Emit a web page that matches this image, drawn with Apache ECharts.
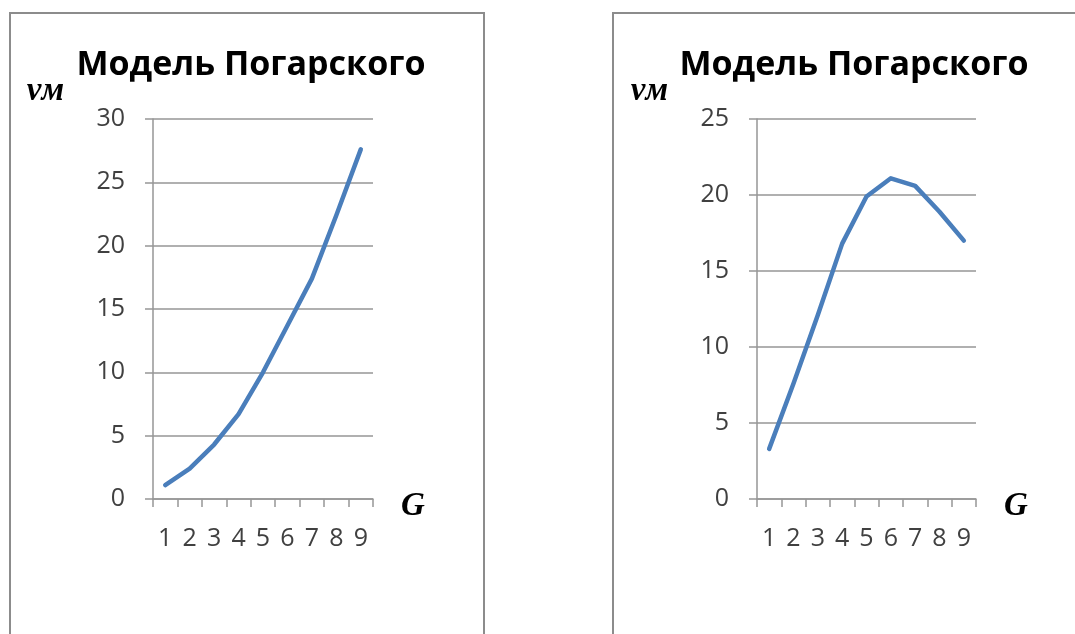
<!DOCTYPE html>
<html>
<head>
<meta charset="utf-8">
<script src="https://cdn.jsdelivr.net/npm/echarts@6/dist/echarts.min.js"></script>
<style>
  html, body { margin: 0; padding: 0; background: #ffffff; }
  #chart { width: 1075px; height: 634px; }
</style>
</head>
<body>
<div id="chart"></div>
<script>
// Categories along G and the two computed speed curves
const categories = ['1', '2', '3', '4', '5', '6', '7', '8', '9'];
const speedLeft = [1.1, 2.4, 4.3, 6.7, 10.0, 13.7, 17.4, 22.4, 27.6];
const speedRight = [3.3, 7.6, 12.1, 16.8, 19.9, 21.1, 20.6, 18.9, 17.0];
const chartTitle = 'Модель Погарского';
const yName = 'vм';
const xName = 'G';

const gridColor = '#969696';
const labelColor = '#404040';
const lineColor = '#4a7ebb';
const tickFont = 'Open Sans';
const nameFont = 'italic bold 33px "Liberation Serif"';

function xAxisCfg(gridIndex) {
  return {
    type: 'category',
    gridIndex: gridIndex,
    data: categories,
    boundaryGap: true,
    axisLine: { show: true, lineStyle: { color: gridColor, width: 1.5 } },
    axisTick: { show: true, length: 8, alignWithLabel: false, lineStyle: { color: gridColor, width: 1.5 } },
    axisLabel: { margin: 27, fontFamily: tickFont, fontSize: 25, color: labelColor },
    splitLine: { show: false }
  };
}

function yAxisCfg(gridIndex, max, interval) {
  return {
    type: 'value',
    gridIndex: gridIndex,
    min: 0,
    max: max,
    interval: interval,
    name: yName,
    nameLocation: 'end',
    nameGap: 11,
    nameTextStyle: {
      fontFamily: 'Liberation Serif', fontStyle: 'italic', fontWeight: 'bold',
      fontSize: 33, color: '#000000', align: 'right', padding: [0, 89, 0, 0]
    },
    axisLine: { show: true, lineStyle: { color: gridColor, width: 1.5 } },
    axisTick: { show: true, length: 8, lineStyle: { color: gridColor, width: 1.5 } },
    axisLabel: { margin: 28, fontFamily: tickFont, fontSize: 25, color: labelColor },
    splitLine: { show: true, lineStyle: { color: gridColor, width: 1.5 } }
  };
}

const chart = echarts.init(document.getElementById('chart'), null, { renderer: 'canvas' });

chart.setOption({
  backgroundColor: '#ffffff',
  animation: false,
  title: [
    {
      text: chartTitle, left: 246, top: 43, textAlign: 'center',
      textStyle: { fontFamily: 'Open Sans', fontWeight: 'bold', fontSize: 34, color: '#000000' }
    },
    {
      text: chartTitle, left: 849, top: 43, textAlign: 'center',
      textStyle: { fontFamily: 'Open Sans', fontWeight: 'bold', fontSize: 34, color: '#000000' }
    }
  ],
  graphic: [
    {
      type: 'rect', left: 9, top: 12, z: -1,
      shape: { width: 474, height: 640 },
      style: { fill: '#ffffff', stroke: '#8c8c8c', lineWidth: 2 }
    },
    {
      type: 'rect', left: 612, top: 12, z: -1,
      shape: { width: 474, height: 640 },
      style: { fill: '#ffffff', stroke: '#8c8c8c', lineWidth: 2 }
    },
    // x-axis name, placed to the right of each category axis
    {
      type: 'text', z: 10,
      style: { text: xName, x: 401, y: 506, font: nameFont, fill: '#000000', align: 'left', verticalAlign: 'middle' }
    },
    {
      type: 'text', z: 10,
      style: { text: xName, x: 1004, y: 506, font: nameFont, fill: '#000000', align: 'left', verticalAlign: 'middle' }
    }
  ],
  grid: [
    { left: 153, top: 119, width: 220, height: 380 },
    { left: 757, top: 119, width: 219, height: 380 }
  ],
  xAxis: [xAxisCfg(0), xAxisCfg(1)],
  yAxis: [yAxisCfg(0, 30, 5), yAxisCfg(1, 25, 5)],
  series: [
    {
      type: 'line', xAxisIndex: 0, yAxisIndex: 0, data: speedLeft,
      showSymbol: false, symbol: 'none',
      lineStyle: { color: lineColor, width: 4.5, cap: 'round', join: 'round' }
    },
    {
      type: 'line', xAxisIndex: 1, yAxisIndex: 1, data: speedRight,
      showSymbol: false, symbol: 'none',
      lineStyle: { color: lineColor, width: 4.5, cap: 'round', join: 'round' }
    }
  ]
});
</script>
</body>
</html>
